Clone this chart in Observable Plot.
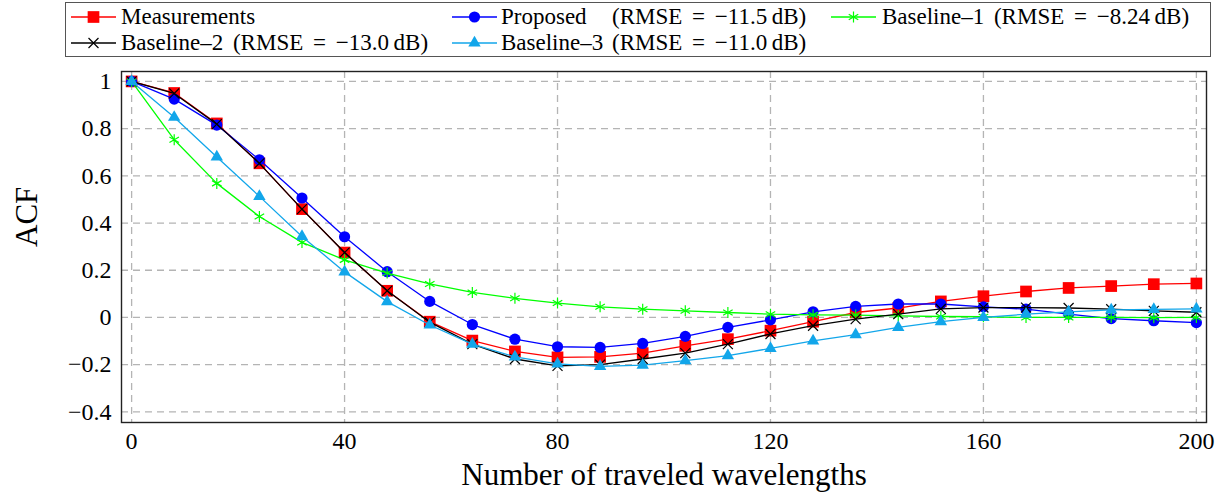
<!DOCTYPE html>
<html><head><meta charset="utf-8">
<script src="https://cdn.jsdelivr.net/npm/d3@7"></script>
<script src="https://cdn.jsdelivr.net/npm/@observablehq/plot@0.6"></script>
<style>
body{margin:0;background:#fff;font-family:'Liberation Serif','Times New Roman',serif;}
#legend{position:relative;width:1230px;height:60px;}
#box{position:absolute;left:65px;top:2px;width:1146px;height:55px;border:1.4px solid #555;box-sizing:border-box;}
.lbl{position:absolute;font-size:23px;line-height:20px;height:20px;white-space:nowrap;color:#000;word-spacing:4px;}
.smp{position:absolute;}
#chart svg{display:block;}
</style></head><body>
<div id="legend"><div id="box"></div></div>
<div id="chart"></div>
<script>
// ---- data ----
const xs = [0, 8, 16, 24, 32, 40, 48, 56, 64, 72, 80, 88, 96, 104, 112, 120, 128, 136, 144, 152, 160, 168, 176, 184, 192, 200];
const measurements = [1.0, 0.951, 0.822, 0.653, 0.459, 0.275, 0.113, -0.018, -0.098, -0.144, -0.169, -0.167, -0.151, -0.12, -0.092, -0.056, -0.018, 0.021, 0.04, 0.068, 0.09, 0.11, 0.125, 0.133, 0.141, 0.144];
const proposed = [1.0, 0.925, 0.815, 0.668, 0.506, 0.342, 0.194, 0.068, -0.03, -0.092, -0.124, -0.127, -0.11, -0.08, -0.042, -0.01, 0.024, 0.047, 0.057, 0.057, 0.045, 0.035, 0.014, -0.005, -0.014, -0.022];
const baseline1 = [1.0, 0.753, 0.568, 0.428, 0.318, 0.244, 0.188, 0.142, 0.106, 0.081, 0.061, 0.045, 0.035, 0.028, 0.021, 0.014, 0.011, 0.01, 0.007, 0.004, 0.003, 0.0, 0.0, 0.0, -0.001, 0.0];
const baseline2 = [1.0, 0.949, 0.819, 0.653, 0.459, 0.275, 0.113, -0.02, -0.113, -0.176, -0.205, -0.2, -0.176, -0.151, -0.113, -0.07, -0.035, -0.007, 0.014, 0.036, 0.042, 0.042, 0.04, 0.035, 0.028, 0.022];
const baseline3 = [1.0, 0.848, 0.68, 0.513, 0.343, 0.193, 0.067, -0.032, -0.113, -0.167, -0.197, -0.207, -0.202, -0.183, -0.162, -0.131, -0.099, -0.073, -0.042, -0.018, 0.0, 0.014, 0.024, 0.032, 0.034, 0.036];
const seriesNames = ["Measurements", "Proposed", "Baseline\u20131", "Baseline\u20132", "Baseline\u20133"];
const rmseLabels = ["", "(RMSE = \u221211.5\u2009dB)", "(RMSE = \u22128.24\u2009dB)", "(RMSE = \u221213.0\u2009dB)", "(RMSE = \u221211.0\u2009dB)"];
const xTicks = [0, 40, 80, 120, 160, 200];
const yTicks = [-0.4, -0.2, 0, 0.2, 0.4, 0.6, 0.8, 1];
const xLabel = "Number of traveled wavelengths";
const yLabel = "ACF";

// ---- styles ----
const FONT = "'Liberation Serif','Times New Roman',serif";
const colors = ["#ff0000", "#0000ff", "#00ff00", "#000000", "#12a6ea"];
const symbols = ["square", "circle", "asterisk", "times", "triangle"];
const radii = [6.6, 5.6, 5.2, 4.6, 4.6];
const filled = [true, true, false, false, true];

const values = [measurements, proposed, baseline1, baseline2, baseline3];
const data = values.map((vals, i) => xs.map((x, j) => ({x, y: vals[j], s: seriesNames[i]})));

const marks = [
  Plot.gridX(xTicks, {stroke: "#b4b4b4", strokeOpacity: 1, strokeWidth: 1.3, strokeDasharray: "7,5"}),
  Plot.gridY(yTicks, {stroke: "#b4b4b4", strokeOpacity: 1, strokeWidth: 1.3, strokeDasharray: "7,5"})
];
data.forEach((d, i) => {
  marks.push(Plot.line(d, {x: "x", y: "y", stroke: colors[i], strokeWidth: 1.3}));
  const opts = {x: "x", y: "y", symbol: () => symbols[i], r: radii[i]};
  if (filled[i]) { opts.fill = colors[i]; opts.stroke = "none"; }
  else { opts.stroke = colors[i]; opts.fill = "none"; opts.strokeWidth = 1.2; }
  marks.push(Plot.dot(d, opts));
});
marks.push(Plot.frame({stroke: "#222", strokeWidth: 1.4}));
marks.push(Plot.axisX(xTicks, {tickSize: 0, tickPadding: 9, fontSize: 24, fontFamily: FONT, label: null,
  tickFormat: d => String(d)}));
marks.push(Plot.axisY(yTicks, {tickSize: 0, tickPadding: 10, fontSize: 24, fontFamily: FONT, label: null,
  tickFormat: d => d < 0 ? "\u2212" + Math.abs(d) : String(d)}));
marks.push(Plot.text([xLabel], {text: d => d, frameAnchor: "bottom", dy: 62, fontSize: 31, fontFamily: FONT}));
marks.push(Plot.text([yLabel], {text: d => d, frameAnchor: "left", dx: -94, rotate: -90, fontSize: 31, fontFamily: FONT}));

const chart = Plot.plot({
  width: 1230, height: 438,
  marginLeft: 121, marginRight: 24, marginTop: 11, marginBottom: 76,
  x: {domain: [-1.9, 201.9]},
  y: {domain: [-0.445, 1.042]},
  symbol: {type: "identity"},
  style: {fontFamily: FONT, background: "white", color: "black"},
  marks
});
document.getElementById("chart").appendChild(chart);

// ---- legend ----
const legend = document.getElementById("legend");
const colLine = [71, 452, 831];
const colText = [121, 501, 882];
const rmseX = 612;
const rowY = [17, 43];
const layout = [[0, 0], [1, 0], [2, 0], [0, 1], [1, 1]]; // [col,row]
const symMap = {square: d3.symbolSquare, circle: d3.symbolCircle, asterisk: d3.symbolAsterisk, times: d3.symbolTimes, triangle: d3.symbolTriangle};
layout.forEach(([c, r], i) => {
  const w = 45;
  const svg = d3.create("svg").attr("class", "smp").attr("width", w).attr("height", 20)
    .style("left", colLine[c] + "px").style("top", (rowY[r] - 10) + "px");
  svg.append("line").attr("x1", 0).attr("x2", w).attr("y1", 10).attr("y2", 10)
    .attr("stroke", colors[i]).attr("stroke-width", 1.3);
  const p = svg.append("path").attr("transform", `translate(${w / 2},10)`)
    .attr("d", d3.symbol(symMap[symbols[i]], Math.PI * radii[i] * radii[i])());
  if (filled[i]) p.attr("fill", colors[i]); else p.attr("fill", "none").attr("stroke", colors[i]).attr("stroke-width", 1.2);
  legend.appendChild(svg.node());
  const mk = (txt, left) => {
    const t = document.createElement("div");
    t.className = "lbl";
    t.style.left = left + "px";
    t.style.top = (rowY[r] - 10) + "px";
    t.textContent = txt;
    legend.appendChild(t);
  };
  if (c === 1) {
    mk(seriesNames[i], colText[c]);
    mk(rmseLabels[i], rmseX);
  } else {
    mk(seriesNames[i] + (rmseLabels[i] ? " " + rmseLabels[i] : ""), colText[c]);
  }
});
</script>
</body></html>
